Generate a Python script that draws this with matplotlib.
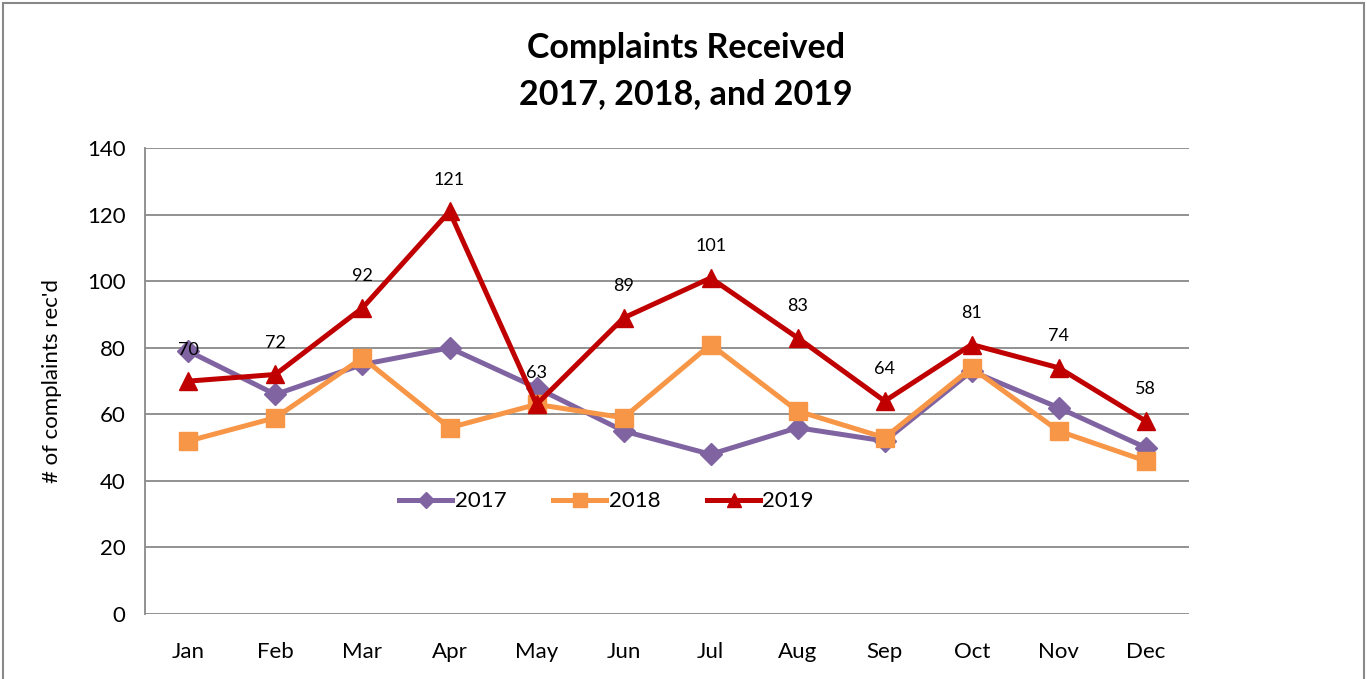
import matplotlib
matplotlib.use('Agg')
import matplotlib.pyplot as plt
from matplotlib.patches import Rectangle

months = ['Jan', 'Feb', 'Mar', 'Apr', 'May', 'Jun', 'Jul', 'Aug', 'Sep', 'Oct', 'Nov', 'Dec']
y2017 = [79, 66, 75, 80, 68, 55, 48, 56, 52, 73, 62, 50]
y2018 = [52, 59, 77, 56, 63, 59, 81, 61, 53, 74, 55, 46]
y2019 = [70, 72, 92, 121, 63, 89, 101, 83, 64, 81, 74, 58]

plt.rcParams['font.family'] = ['Lato', 'DejaVu Sans']

fig = plt.figure(figsize=(13.67, 6.79), dpi=100)
ax = fig.add_axes([0.106, 0.0957, 0.764, 0.686])

x = list(range(len(months)))
ax.plot(x, y2017, color='#8064A2', lw=3.6, marker='D', ms=11, label='2017', zorder=3)
ax.plot(x, y2018, color='#F79646', lw=3.6, marker='s', ms=13, label='2018', zorder=4)
ax.plot(x, y2019, color='#C00000', lw=3.6, marker='^', ms=13, label='2019', zorder=5)

# data labels on 2019 only
for xi, v in zip(x, y2019):
    ax.annotate(str(v), (xi, v), xytext=(0, 17), textcoords='offset points',
                ha='center', va='bottom', fontsize=13)

ax.set_xlim(-0.5, 11.5)
ax.set_ylim(0, 140)
ax.set_yticks(range(0, 141, 20))
ax.set_xticks(x)
ax.set_xticklabels(months)
ax.tick_params(axis='both', labelsize=16, length=0)
ax.tick_params(axis='x', pad=20)
ax.tick_params(axis='y', pad=14)
ax.grid(axis='y', color='#898989', lw=1.3)
ax.set_axisbelow(True)
for s in ['top', 'right', 'bottom']:
    ax.spines[s].set_visible(False)
ax.spines['left'].set_color('#898989')
ax.spines['left'].set_linewidth(1.3)
ax.set_ylabel("# of complaints rec'd", fontsize=16, labelpad=18)

ax.legend(loc='center', bbox_to_anchor=(0.442, 0.242), ncol=3, frameon=False,
          fontsize=16, handlelength=2.4, columnspacing=2.1, handletextpad=0.1,
          markerscale=0.75)

fig.text(0.502, 0.93, 'Complaints Received', ha='center', va='center',
         fontsize=24.5, fontweight='bold')
fig.text(0.502, 0.862, '2017, 2018, and 2019', ha='center', va='center',
         fontsize=24.5, fontweight='bold')

fig.patches.append(Rectangle((0.002, -0.01), 0.996, 1.005, transform=fig.transFigure,
                             fill=False, edgecolor='#898989', lw=1.5))

fig.savefig('out.png', dpi=100)
